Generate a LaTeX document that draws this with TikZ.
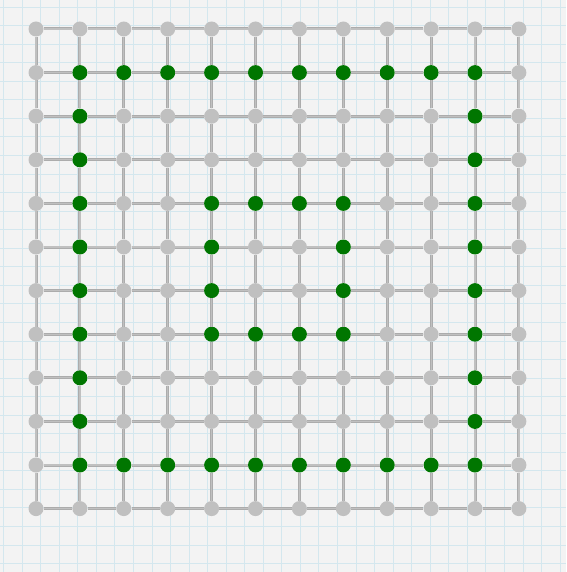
\documentclass[tikz,border=0pt]{standalone}
\usetikzlibrary{calc}
\definecolor{bgc}{RGB}{243,243,243}
\definecolor{paper}{RGB}{212,231,238}
\definecolor{edgec}{RGB}{172,172,172}
\definecolor{edgehi}{RGB}{192,192,192}
\definecolor{nodegray}{RGB}{192,192,192}
\definecolor{nodegreen}{RGB}{0,118,0}
\tikzset{
  vtx/.style={circle,fill=nodegray,draw=none,minimum size=15pt,inner sep=0pt},
  hot/.style={fill=nodegreen},
  link/.style={draw=edgec,line width=3pt,
    postaction={draw=edgehi,line width=1.2pt}},
}
\begin{document}
\begin{tikzpicture}[x=1pt,y=-1pt]
\useasboundingbox (0,0) rectangle (566,572);
\fill[bgc] (0,0) rectangle (566,572);
\foreach \k in {0,...,30} {
  \draw[paper,line width=0.8pt] ({3.5+18.55*\k},0) -- ++(0,572);
  \draw[paper,line width=0.8pt] (0,{7+18.55*\k}) -- ++(566,0);
}
% nodes
\foreach \i in {0,...,11} {
  \foreach \j in {0,...,11} {
    \pgfmathtruncatemacro{\isgreen}{
      ((\j==1 || \j==10) && \i>=1 && \i<=10) ||
      ((\i==1 || \i==10) && \j>=1 && \j<=10) ||
      ((\j==4 || \j==7) && \i>=4 && \i<=7) ||
      ((\i==4 || \i==7) && \j>=4 && \j<=7) ? 1 : 0}
    \ifnum\isgreen=1
      \node[vtx,hot] (n-\i-\j) at ({36+43.9*\i},{29+43.6*\j}) {};
    \else
      \node[vtx] (n-\i-\j) at ({36+43.9*\i},{29+43.6*\j}) {};
    \fi
  }
}
% edges
\foreach \i in {0,...,11} {
  \foreach \j [evaluate=\j as \jn using int(\j+1)] in {0,...,10} {
    \draw[link] (n-\i-\j) -- (n-\i-\jn);
    \draw[link] (n-\j-\i) -- (n-\jn-\i);
  }
}
\end{tikzpicture}
\end{document}
